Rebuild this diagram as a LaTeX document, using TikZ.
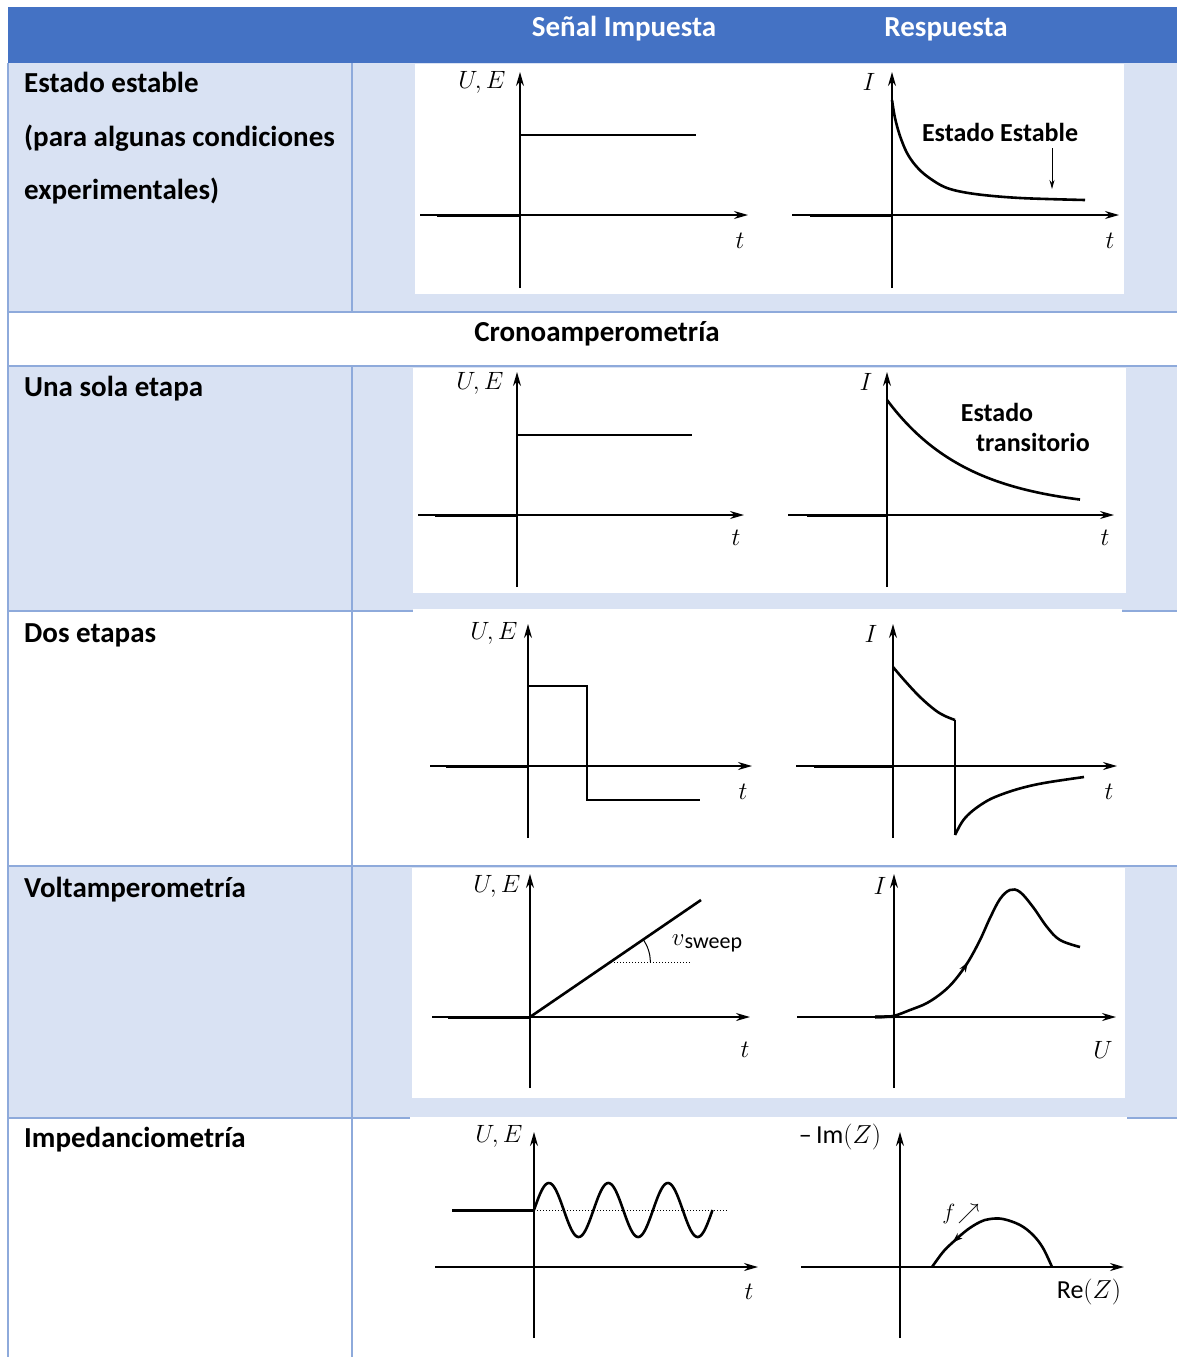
\RequirePackage{fix-cm}
\documentclass[tikz,border=0pt]{standalone}
\usepackage[no-math]{fontspec}
\setmainfont{Carlito}
\usetikzlibrary{arrows.meta,decorations.markings}
\definecolor{hdrblue}{HTML}{4472C4}
\definecolor{bandblue}{HTML}{D9E2F3}
\definecolor{ruleblue}{HTML}{8EAADB}
\begin{document}
\begin{tikzpicture}[x=1pt,y=-1pt,
  rowlbl/.style={anchor=base west,inner sep=0pt,font=\fontsize{29}{34}\selectfont\bfseries},
  hdrlbl/.style={anchor=base,inner sep=0pt,text=white,font=\fontsize{29}{34}\selectfont\bfseries},
  note/.style={inner sep=0pt,font=\fontsize{26}{30}\selectfont\bfseries},
  axlbl/.style={inner sep=0pt,font=\fontsize{25}{29}\selectfont},
  axis/.style={line width=1.5pt,-{Stealth[length=14pt,width=8pt]}},
  sig/.style={line width=2.6pt,line join=miter},
  basel/.style={line width=3pt},
  guide/.style={line width=1pt,dotted},
  rulel/.style={ruleblue,line width=2pt}]
\useasboundingbox (0,0) rectangle (1177,1357);
\fill[white] (0,0) rectangle (1177,1357);

% table bands
\fill[hdrblue] (8,7) rectangle (1177,63);
\fill[bandblue] (8,63) rectangle (1177,312);
\fill[bandblue] (8,366) rectangle (1177,611);
\fill[bandblue] (8,866) rectangle (1177,1118);

% table rules
\foreach \yy in {312,366,611,866,1118} \draw[rulel] (8,\yy) -- (1177,\yy);
\draw[rulel] (8,63) -- (8,1357);
\draw[rulel] (352,63) -- (352,312);
\draw[rulel] (352,366) -- (352,1357);

% white plot panels
\fill[white] (415,64) rectangle (1124,294);
\fill[white] (413,368) rectangle (1126,593);
\fill[white] (413,609) rectangle (1122,613);
\fill[white] (412,868) rectangle (1125,1098);
\fill[white] (410,1116.5) rectangle (1127,1120);

% header and row titles
\node[hdrlbl] (hsig) at (624,36) {Señal Impuesta};
\node[hdrlbl] (hres) at (946,36) {Respuesta};
\node[rowlbl] (r1a) at (24,92) {Estado estable};
\node[rowlbl] (r1b) at (24,146) {(para algunas condiciones};
\node[rowlbl] (r1c) at (24,199) {experimentales)};
\node[anchor=base,inner sep=0pt,font=\fontsize{29}{34}\selectfont\bfseries] (crono) at (597,341) {Cronoamperometría};
\node[rowlbl] (r2) at (24,396) {Una sola etapa};
\node[rowlbl] (r3) at (24,642) {Dos etapas};
\node[rowlbl] (r4) at (24,897) {Voltamperometría};
\node[rowlbl] (r5) at (24,1147) {Impedanciometría};

% ---- steady state: step and Cottrell-like decay
\draw[axis] (520,288) -- (520,72);
\draw[axis] (420,215) -- (748,215);
\draw[basel] (437,215) -- (520,215);
\draw[sig] (520,215) -- (520,135) -- (696,135);
\node[axlbl] (ue1) at (482,82) {$U,E$};
\node[axlbl] (t1) at (740,241) {$t$};

\draw[axis] (892,288) -- (892,72);
\draw[axis] (792,215) -- (1119,215);
\draw[basel] (810,215) -- (892,215);
\draw[sig] (892,215) -- (892,100);
\draw[sig] plot[smooth,tension=0.55] coordinates {(892,100) (895,118) (900,136) (907,153) (916,166) (928,177) (947,188) (975,194) (1020,198) (1085,200)};
\node[axlbl] (i1) at (869,82) {$I$};
\node[axlbl] (t1r) at (1110,241) {$t$};
\node[note] (ee) at (1000,132) {Estado Estable};
\coordinate (eetip) at (1052,189);
\draw[line width=1pt,-{Stealth[length=9pt,width=5pt]}] (1052,148) -- (eetip);

% ---- single step
\draw[axis] (517,587) -- (517,372);
\draw[axis] (418,515) -- (744,515);
\draw[basel] (435,515) -- (517,515);
\draw[sig] (517,515) -- (517,435) -- (692,435);
\node[axlbl] (ue2) at (480,383) {$U,E$};
\node[axlbl] (t2) at (736,538) {$t$};

\draw[axis] (887,587) -- (887,372);
\draw[axis] (788,515) -- (1114,515);
\draw[basel] (807,515) -- (887,515);
\draw[sig] (887,515) -- (887,400);
\draw[sig] plot[domain=0:193,samples=60] ({887+\x},{510-110*exp(-\x/82)});
\node[axlbl] (i2) at (866,382) {$I$};
\node[axlbl] (t2r) at (1105,538) {$t$};
\node[note] (et1) at (997,412) {Estado};
\node[note] (et2) at (1033,442) {transitorio};

% ---- double step
\draw[axis] (528,838) -- (528,624);
\draw[axis] (430,766) -- (752,766);
\draw[basel] (446,766) -- (528,766);
\draw[sig] (528,766) -- (528,686) -- (587,686) -- (587,800) -- (700,800);
\node[axlbl] (ue3) at (494,633) {$U,E$};
\node[axlbl] (t3) at (743,792) {$t$};

\draw[axis] (893,838) -- (893,624);
\draw[axis] (796,766) -- (1117,766);
\draw[basel] (814,766) -- (893,766);
\draw[sig] (893,766) -- (893,667);
\draw[sig] plot[smooth,tension=0.6] coordinates {(893,667) (905,681) (920,697) (935,710) (945,716) (955,720)};
\draw[sig] (955,720) -- (955,835);
\draw[sig] plot[smooth,tension=0.6] coordinates {(955,835) (962,822) (970,813) (982,804) (995,797) (1018,789) (1044,783) (1084,777)};
\node[axlbl] (i3) at (871,634) {$I$};
\node[axlbl] (t3r) at (1109,792) {$t$};

% ---- linear sweep voltammetry
\draw[axis] (530,1088) -- (530,874);
\draw[axis] (432,1017) -- (750,1017);
\draw[basel] (448,1017) -- (530,1017);
\draw[sig] (530,1017) -- (701,900);
\draw[guide] (611,962) -- (691,962);
\draw[line width=1pt] plot[smooth] coordinates {(650.4,962) (649.6,954.3) (647.3,946.9) (643.6,940)};
\node[axlbl] (ue4) at (497,886) {$U,E$};
\node[axlbl] (t4) at (745,1050) {$t$};
\node[inner sep=0pt] (vs) at (707,943) {\fontsize{25}{29}\selectfont$v$\raisebox{-3pt}{\fontsize{22}{26}\selectfont sweep}};

\draw[axis] (894,1088) -- (894,874);
\draw[axis] (797,1017) -- (1116,1017);
\draw[basel] (875,1017) -- (893,1016.5);
\draw[sig,decoration={markings,mark=at position 113pt with {\arrow{Stealth[length=10pt,width=7pt]}}},postaction={decorate}]
  plot[smooth,tension=0.6] coordinates {(875,1017) (893,1016) (910,1010) (927,1003) (943,992) (955,980) (968,962) (980,940) (990,918) (1000,899) (1010,890) (1020,892) (1033,907) (1047,927) (1060,940) (1080,947)};
\node[axlbl] (i4) at (880,886) {$I$};
\node[axlbl] (u4) at (1103,1050) {$U$};

% ---- impedance
\draw[axis] (534,1338) -- (534,1132);
\draw[axis] (435,1267) -- (758,1267);
\draw[basel] (452,1210) -- (534,1210);
\draw[guide] (534,1210) -- (727,1210);
\draw[sig] plot[domain=0:178.5,samples=150] ({534+\x},{1210-27*sin(\x*6.0504)});
\node[axlbl] (ue5) at (499,1136) {$U,E$};
\node[axlbl] (t5) at (749,1292) {$t$};

\draw[axis] (900,1338) -- (900,1132);
\draw[axis] (801,1267) -- (1124,1267);
\draw[sig,decoration={markings,mark=at position 130pt with {\arrow{Stealth[length=10pt,width=7pt]}}},postaction={decorate}]
  plot[smooth,tension=0.6] coordinates {(1052,1267) (1043,1248) (1033,1235) (1020,1225) (1003,1219) (990,1219) (980,1222) (967,1230) (952,1243) (943,1252) (932,1267)};
\node[inner sep=0pt] (fl) at (961,1214) {\fontsize{22}{26}\selectfont$f\!\nearrow$};
\node[axlbl,font=\fontsize{26}{30}\selectfont] (im5) at (840,1137) {–\,Im$(Z)$};
\node[axlbl,font=\fontsize{26}{30}\selectfont] (re5) at (1089,1292) {Re$(Z)$};
\end{tikzpicture}
\end{document}
